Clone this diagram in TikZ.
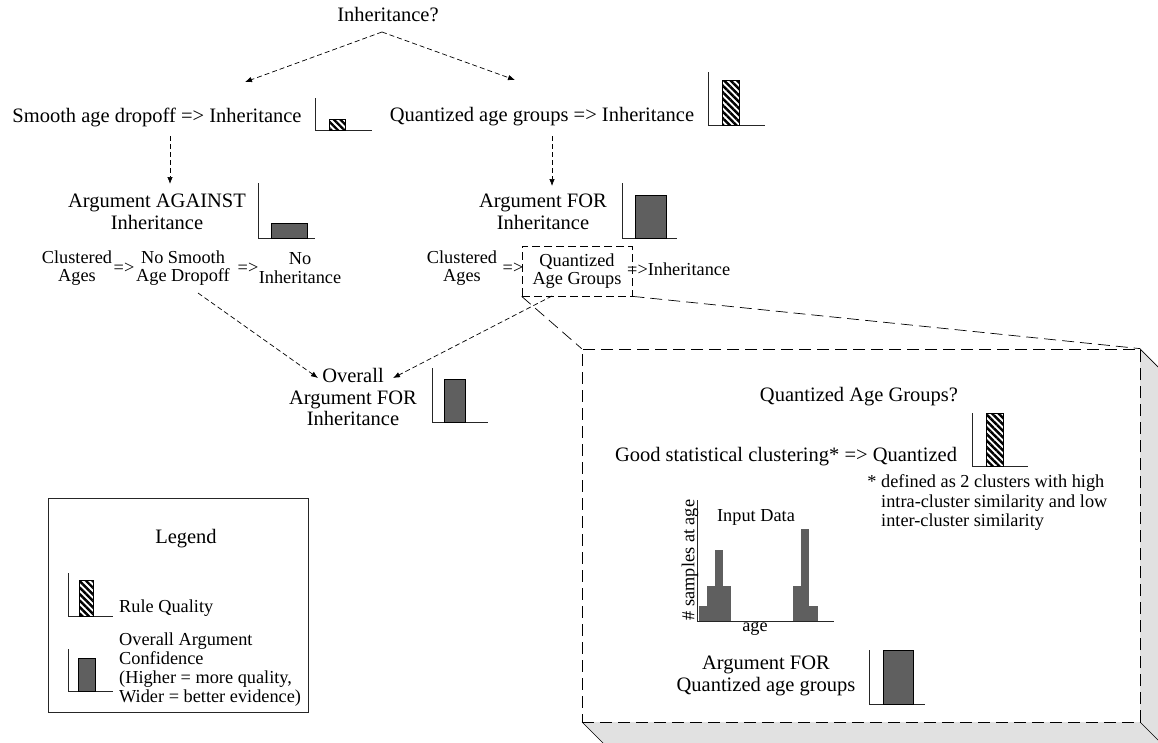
\documentclass[tikz,border=0pt]{standalone}
\usepackage{fontspec}
\setmainfont{Liberation Serif}
\usepackage{xcolor}
\usepackage{tikz}
\usetikzlibrary{patterns.meta,arrows.meta}

\definecolor{bargray}{HTML}{5F5F5F}
\definecolor{sidegray}{HTML}{E1E1E1}

% axes of a small quality chart: x, top, baseline, right end
\newcommand{\qualaxes}[4]{\draw[axis] (#1,#2) -- (#1,#3) -- (#4,#3);}

\begin{document}
\begin{tikzpicture}
      [ x=1pt, y=-1pt, >={Latex[length=7pt,width=5.5pt]},
        big/.style={inner sep=0pt, align=center, font=\fontsize{20.5}{21.5}\selectfont},
        small/.style={inner sep=0pt, align=center, font=\fontsize{18.3}{18.5}\selectfont},
        arr/.style={->, dash pattern=on 5pt off 3pt, line width=0.7pt},
        axis/.style={line width=0.8pt, draw=black!85},
        hatchbar/.style={draw=black, line width=0.8pt,
          pattern={Lines[angle=-45,distance=4.6pt,line width=2.4pt]}},
        solidbar/.style={draw=black, line width=0.8pt, fill=bargray},
        zoomline/.style={dash pattern=on 12pt off 6pt, line width=0.7pt}
      ]
      \useasboundingbox (0,0) rectangle (1158,742);

      % top of the tree
      \node[big]   (root)    at (388,15)   {Inheritance?};
      \node[big]   (smooth)  at (157,117)  {Smooth age dropoff => Inheritance};
      \node[big]   (quant)   at (542,117)  {Quantized age groups => Inheritance};

      \coordinate  (fork)      at (382,32);
      \coordinate  (smoothtip) at (245,82);
      \coordinate  (quanttip)  at (515,80);

      \path[arr] (fork)   edge  (smoothtip)
                 (fork)   edge  (quanttip);

      \qualaxes{315}{98}{130}{372}
      \draw[hatchbar] (329,119) rectangle (345,130);
      \qualaxes{708}{72}{125}{765}
      \draw[hatchbar] (722,80) rectangle (739,125);

      % arguments
      \node[big]   (against) at (157,212)  {Argument AGAINST\\Inheritance};
      \node[big]   (forinh)  at (543,212)  {Argument FOR\\Inheritance};

      \coordinate  (smoothout) at (170,136);
      \coordinate  (againstin) at (170,184);
      \coordinate  (quantout)  at (552,136);
      \coordinate  (forinhin)  at (552,186);

      \path[arr] (smoothout) edge  (againstin)
                 (quantout)  edge  (forinhin);

      \qualaxes{258}{183}{238}{315}
      \draw[solidbar] (271,223) rectangle (307,238);
      \qualaxes{622}{183}{238}{677}
      \draw[solidbar] (635,195) rectangle (666,238);

      % chains of reasoning
      \node[small] (clusa)   at (77,268)   {Clustered\\Ages};
      \node[small] (impa)    at (124,268)  {=>};
      \node[small] (nosmooth) at (183,268) {No Smooth\\Age Dropoff};
      \node[small] (impb)    at (248,268)  {=>};
      \node[small] (noinh)   at (300,268)  {No\\Inheritance};

      \node[small] (clusb)   at (462,268)  {Clustered\\Ages};
      \node[small] (impc)    at (513,268)  {=>};
      \node[small, draw, dash pattern=on 8pt off 4pt, line width=0.7pt,
            minimum width=110pt, minimum height=50pt]
                   (qgroups) at (577,271)  {Quantized\\Age Groups};
      \node[small, anchor=west] (impd) at (627,269) {=>Inheritance};

      % overall argument
      \node[big]   (overall) at (353,397)  {Overall\\Argument FOR\\Inheritance};

      \coordinate  (nosmoothout) at (198,293);
      \coordinate  (overallina)  at (318,378);
      \coordinate  (qgroupsout)  at (552,296);
      \coordinate  (overallinb)  at (393,378);

      \path[arr] (nosmoothout) edge  (overallina)
                 (qgroupsout)  edge  (overallinb);

      \qualaxes{432}{368}{422}{488}
      \draw[solidbar] (444,379) rectangle (465,422);

      % magnified view of the rule
      \fill[sidegray] (1140,349) -- (1162,371) -- (1162,744) -- (1140,722) -- cycle;
      \fill[sidegray] (582,722) -- (1140,722) -- (1162,744) -- (604,744) -- cycle;
      \draw[line width=0.7pt] (1140,349) -- (1162,371)
                              (1140,722) -- (1162,744)
                              (582,722) -- (604,744);
      \node[draw, zoomline, fill=white, inner sep=0pt,
            minimum width=558pt, minimum height=373pt]
                   (zoombox) at (861,535.5) {};

      \draw[zoomline] (qgroups.south west) -- (zoombox.north west)
                      (qgroups.south east) -- (zoombox.north east);

      \node[big]   (qtitle)  at (859,397)  {Quantized Age Groups?};
      \node[big]   (goodclus) at (786,457) {Good statistical clustering* => Quantized};
      \qualaxes{972}{413}{466}{1028}
      \draw[hatchbar] (986,413) rectangle (1003,466);
      \node[small, align=left, anchor=west, font=\fontsize{18.3}{19.5}\selectfont]
                   (note)    at (881,503)
                   {\llap{* }defined as 2 clusters with high\\intra-cluster similarity and low\\inter-cluster similarity};

      % input data histogram
      \fill[bargray] (699,606) rectangle (707,621);
      \fill[bargray] (707,586) rectangle (715,621);
      \fill[bargray] (715,550) rectangle (723,621);
      \fill[bargray] (723,586) rectangle (731,621);
      \fill[bargray] (793,586) rectangle (801,621);
      \fill[bargray] (801,529) rectangle (809,621);
      \fill[bargray] (809,606) rectangle (818,621);
      \draw[axis] (697,500) -- (697,621) -- (834,621);
      \node[small] (inputdata) at (756,517) {Input Data};
      \node[small] (agelabel)  at (755,629) {age};
      \node[small, rotate=90] (countlabel) at (690,560) {\# samples at age};

      \node[big]   (forqa)   at (766,676)  {Argument FOR\\Quantized age groups};
      \qualaxes{869}{650}{704}{925}
      \draw[solidbar] (883,650) rectangle (913,704);

      % legend
      \draw[axis] (48,498) rectangle (308,712);
      \node[big]   (legtitle) at (186,539) {Legend};
      \qualaxes{68}{573}{616}{113}
      \draw[hatchbar] (79,580) rectangle (93,616);
      \node[small, anchor=west] (legrule) at (119,608) {Rule Quality};
      \qualaxes{68}{649}{691}{113}
      \draw[solidbar] (78,658) rectangle (95,691);
      \node[small, align=left, anchor=west, font=\fontsize{18.3}{19}\selectfont]
                   (legconf) at (119,670)
                   {Overall Argument\\Confidence\\(Higher = more quality,\\Wider = better evidence)};
\end{tikzpicture}
\end{document}
